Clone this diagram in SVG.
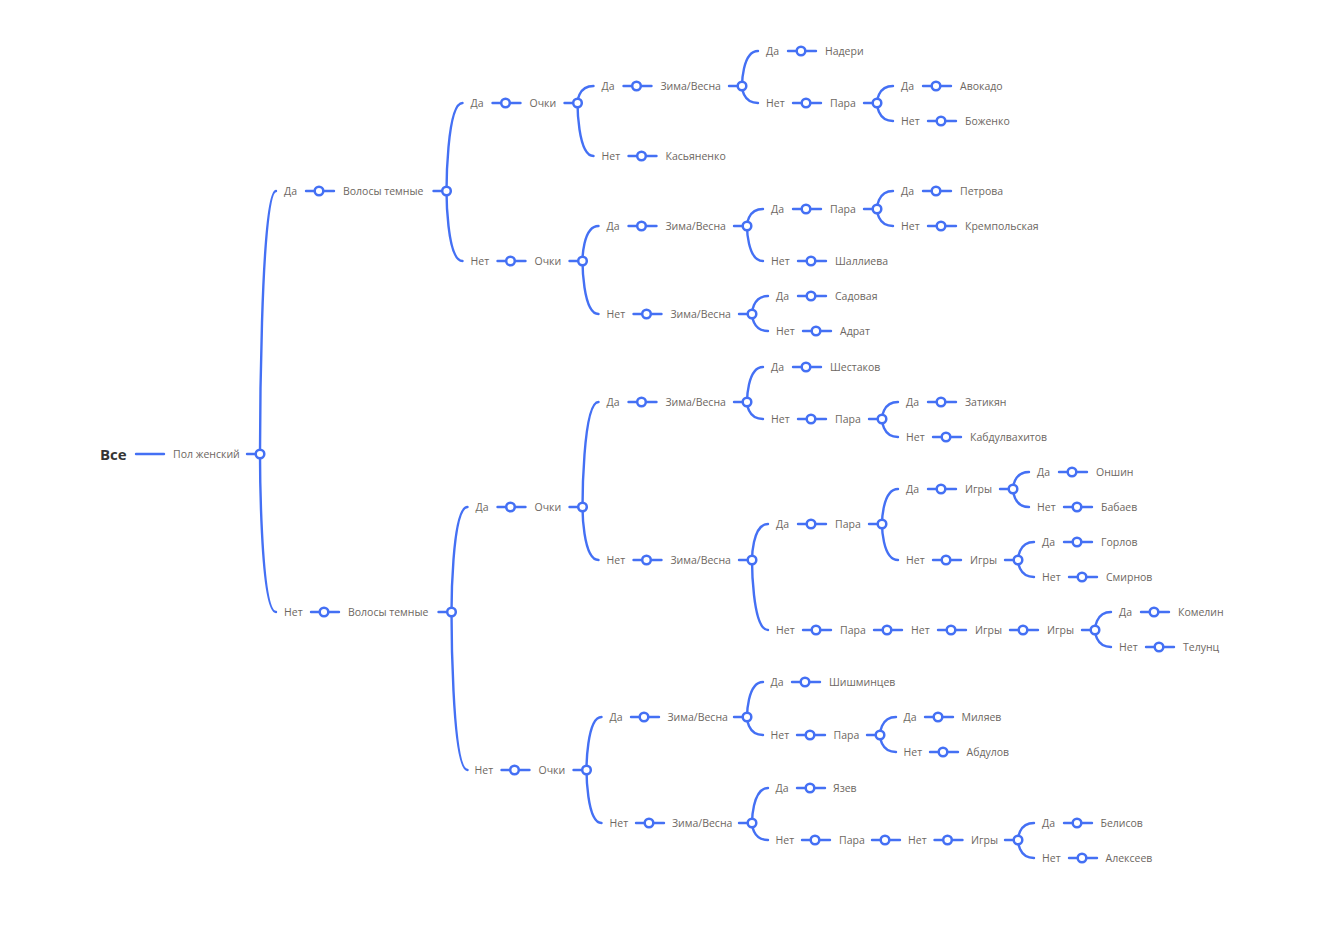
<svg xmlns="http://www.w3.org/2000/svg" width="1320" height="952" viewBox="0 0 1320 952">
  <style>
    .t { font-family: "Open Sans", "Liberation Sans", sans-serif; font-size: 10.5px; fill: #6d6762; }
    .root { font-family: "Open Sans", "Liberation Sans", sans-serif; font-size: 15px; font-weight: 700; fill: #353535; }
    .p { fill: #ffffff; stroke: #4470f4; stroke-width: 2.5; }
    #connectors path { fill: none; stroke: #4470f4; stroke-width: 2.4; stroke-linecap: round; }
  </style>
  <rect width="1320" height="952" fill="#ffffff"/>

  <!-- connectors: straight stubs between labels and ports, curved splits at forks -->
  <g id="connectors">
    <path d="M136 454H164"/>
    <path d="M247 454H260"/>
    <path d="M260 454C260 454 260 191 276 191"/>
    <path d="M260 454C260 454 260 612 276 612"/>

    <!-- upper half -->
    <path d="M306 191H334"/>
    <path d="M433.5 191H446.5"/>
    <path d="M446.5 191C446.5 191 446.5 103 462.5 103"/>
    <path d="M446.5 191C446.5 191 446.5 261 462.5 261"/>

    <path d="M492.5 103H520.5"/>
    <path d="M564.5 103H577.5"/>
    <path d="M577.5 103C577.5 103 577.5 86 593.5 86"/>
    <path d="M577.5 103C577.5 103 577.5 156 593.5 156"/>
    <path d="M623.5 86H651.5"/>
    <path d="M729 86H742"/>
    <path d="M742 86C742 86 742 51 758 51"/>
    <path d="M742 86C742 86 742 103 758 103"/>
    <path d="M788 51H816"/>
    <path d="M793 103H821"/>
    <path d="M864 103H877"/>
    <path d="M877 103C877 103 877 86 893 86"/>
    <path d="M877 103C877 103 877 121 893 121"/>
    <path d="M923 86H951"/>
    <path d="M928 121H956"/>
    <path d="M628.5 156H656.5"/>

    <path d="M497.5 261H525.5"/>
    <path d="M569.5 261H582.5"/>
    <path d="M582.5 261C582.5 261 582.5 226 598.5 226"/>
    <path d="M582.5 261C582.5 261 582.5 314 598.5 314"/>
    <path d="M628.5 226H656.5"/>
    <path d="M734 226H747"/>
    <path d="M747 226C747 226 747 209 763 209"/>
    <path d="M747 226C747 226 747 261 763 261"/>
    <path d="M793 209H821"/>
    <path d="M864 209H877"/>
    <path d="M877 209C877 209 877 191 893 191"/>
    <path d="M877 209C877 209 877 226 893 226"/>
    <path d="M923 191H951"/>
    <path d="M928 226H956"/>
    <path d="M798 261H826"/>
    <path d="M633.5 314H661.5"/>
    <path d="M739 314H752"/>
    <path d="M752 314C752 314 752 296 768 296"/>
    <path d="M752 314C752 314 752 331 768 331"/>
    <path d="M798 296H826"/>
    <path d="M803 331H831"/>

    <!-- lower half -->
    <path d="M311 612H339"/>
    <path d="M438.5 612H451.5"/>
    <path d="M451.5 612C451.5 612 451.5 507 467.5 507"/>
    <path d="M451.5 612C451.5 612 451.5 770 467.5 770"/>

    <path d="M497.5 507H525.5"/>
    <path d="M569.5 507H582.5"/>
    <path d="M582.5 507C582.5 507 582.5 402 598.5 402"/>
    <path d="M582.5 507C582.5 507 582.5 560 598.5 560"/>
    <path d="M628.5 402H656.5"/>
    <path d="M734 402H747"/>
    <path d="M747 402C747 402 747 367 763 367"/>
    <path d="M747 402C747 402 747 419 763 419"/>
    <path d="M793 367H821"/>
    <path d="M798 419H826"/>
    <path d="M869 419H882"/>
    <path d="M882 419C882 419 882 402 898 402"/>
    <path d="M882 419C882 419 882 437 898 437"/>
    <path d="M928 402H956"/>
    <path d="M933 437H961"/>

    <path d="M633.5 560H661.5"/>
    <path d="M739 560H752"/>
    <path d="M752 560C752 560 752 524 768 524"/>
    <path d="M752 560C752 560 752 630 768 630"/>
    <path d="M798 524H826"/>
    <path d="M869 524H882"/>
    <path d="M882 524C882 524 882 489 898 489"/>
    <path d="M882 524C882 524 882 560 898 560"/>
    <path d="M928 489H956"/>
    <path d="M1000 489H1013"/>
    <path d="M1013 489C1013 489 1013 472 1029 472"/>
    <path d="M1013 489C1013 489 1013 507 1029 507"/>
    <path d="M1059 472H1087"/>
    <path d="M1064 507H1092"/>
    <path d="M933 560H961"/>
    <path d="M1005 560H1018"/>
    <path d="M1018 560C1018 560 1018 542 1034 542"/>
    <path d="M1018 560C1018 560 1018 577 1034 577"/>
    <path d="M1064 542H1092"/>
    <path d="M1069 577H1097"/>
    <path d="M803 630H831"/>
    <path d="M874 630H902"/>
    <path d="M938 630H966"/>
    <path d="M1010 630H1038"/>
    <path d="M1082 630H1095"/>
    <path d="M1095 630C1095 630 1095 612 1111 612"/>
    <path d="M1095 630C1095 630 1095 647 1111 647"/>
    <path d="M1141 612H1169"/>
    <path d="M1146 647H1174"/>

    <path d="M501.5 770H529.5"/>
    <path d="M573.5 770H586.5"/>
    <path d="M586.5 770C586.5 770 586.5 717 601.5 717"/>
    <path d="M586.5 770C586.5 770 586.5 823 601.5 823"/>
    <path d="M631 717H659"/>
    <path d="M734 717H747"/>
    <path d="M747 717C747 717 747 682 763 682"/>
    <path d="M747 717C747 717 747 735 763 735"/>
    <path d="M792 682H820"/>
    <path d="M797 735H825"/>
    <path d="M867 735H880"/>
    <path d="M880 735C880 735 880 717 896 717"/>
    <path d="M880 735C880 735 880 752 896 752"/>
    <path d="M925 717H953"/>
    <path d="M930 752H958"/>
    <path d="M636 823H664"/>
    <path d="M739 823H752"/>
    <path d="M752 823C752 823 752 788 768 788"/>
    <path d="M752 823C752 823 752 840 768 840"/>
    <path d="M797 788H825"/>
    <path d="M802 840H830"/>
    <path d="M872 840H900"/>
    <path d="M934.5 840H962.5"/>
    <path d="M1005 840H1018"/>
    <path d="M1018 840C1018 840 1018 823 1034 823"/>
    <path d="M1018 840C1018 840 1018 858 1034 858"/>
    <path d="M1064 823H1092"/>
    <path d="M1069 858H1097"/>
  </g>

  <!-- nodes: label plus its port circle -->
  <g id="n-root"><text class="root" x="100" y="459.8">Все</text></g>
  <g id="n-sex"><text class="t" x="173" y="457.8">Пол женский</text><circle class="p" cx="260" cy="454" r="4.3"/></g>

  <g id="n-a"><text class="t" x="284" y="194.8">Да</text><circle class="p" cx="319" cy="191" r="4.3"/></g>
  <g id="n-a-hair"><text class="t" x="343" y="194.8">Волосы темные</text><circle class="p" cx="446.5" cy="191" r="4.3"/></g>

  <g id="n-a1"><text class="t" x="470.5" y="106.8">Да</text><circle class="p" cx="505.5" cy="103" r="4.3"/></g>
  <g id="n-a1-gl"><text class="t" x="529.5" y="106.8">Очки</text><circle class="p" cx="577.5" cy="103" r="4.3"/></g>
  <g id="n-a1a"><text class="t" x="601.5" y="89.8">Да</text><circle class="p" cx="636.5" cy="86" r="4.3"/></g>
  <g id="n-a1a-ws"><text class="t" x="660.5" y="89.8">Зима/Весна</text><circle class="p" cx="742" cy="86" r="4.3"/></g>
  <g id="n-a1a1"><text class="t" x="766" y="54.8">Да</text><circle class="p" cx="801" cy="51" r="4.3"/></g>
  <g id="n-a1a1-name"><text class="t" x="825" y="54.8">Надери</text></g>
  <g id="n-a1a2"><text class="t" x="766" y="106.8">Нет</text><circle class="p" cx="806" cy="103" r="4.3"/></g>
  <g id="n-a1a2-pair"><text class="t" x="830" y="106.8">Пара</text><circle class="p" cx="877" cy="103" r="4.3"/></g>
  <g id="n-a1a2a"><text class="t" x="901" y="89.8">Да</text><circle class="p" cx="936" cy="86" r="4.3"/></g>
  <g id="n-a1a2a-name"><text class="t" x="960" y="89.8">Авокадо</text></g>
  <g id="n-a1a2b"><text class="t" x="901" y="124.8">Нет</text><circle class="p" cx="941" cy="121" r="4.3"/></g>
  <g id="n-a1a2b-name"><text class="t" x="965" y="124.8">Боженко</text></g>
  <g id="n-a1b"><text class="t" x="601.5" y="159.8">Нет</text><circle class="p" cx="641.5" cy="156" r="4.3"/></g>
  <g id="n-a1b-name"><text class="t" x="665.5" y="159.8">Касьяненко</text></g>

  <g id="n-a2"><text class="t" x="470.5" y="264.8">Нет</text><circle class="p" cx="510.5" cy="261" r="4.3"/></g>
  <g id="n-a2-gl"><text class="t" x="534.5" y="264.8">Очки</text><circle class="p" cx="582.5" cy="261" r="4.3"/></g>
  <g id="n-a2a"><text class="t" x="606.5" y="229.8">Да</text><circle class="p" cx="641.5" cy="226" r="4.3"/></g>
  <g id="n-a2a-ws"><text class="t" x="665.5" y="229.8">Зима/Весна</text><circle class="p" cx="747" cy="226" r="4.3"/></g>
  <g id="n-a2a1"><text class="t" x="771" y="212.8">Да</text><circle class="p" cx="806" cy="209" r="4.3"/></g>
  <g id="n-a2a1-pair"><text class="t" x="830" y="212.8">Пара</text><circle class="p" cx="877" cy="209" r="4.3"/></g>
  <g id="n-a2a1a"><text class="t" x="901" y="194.8">Да</text><circle class="p" cx="936" cy="191" r="4.3"/></g>
  <g id="n-a2a1a-name"><text class="t" x="960" y="194.8">Петрова</text></g>
  <g id="n-a2a1b"><text class="t" x="901" y="229.8">Нет</text><circle class="p" cx="941" cy="226" r="4.3"/></g>
  <g id="n-a2a1b-name"><text class="t" x="965" y="229.8">Кремпольская</text></g>
  <g id="n-a2a2"><text class="t" x="771" y="264.8">Нет</text><circle class="p" cx="811" cy="261" r="4.3"/></g>
  <g id="n-a2a2-name"><text class="t" x="835" y="264.8">Шаллиева</text></g>
  <g id="n-a2b"><text class="t" x="606.5" y="317.8">Нет</text><circle class="p" cx="646.5" cy="314" r="4.3"/></g>
  <g id="n-a2b-ws"><text class="t" x="670.5" y="317.8">Зима/Весна</text><circle class="p" cx="752" cy="314" r="4.3"/></g>
  <g id="n-a2b1"><text class="t" x="776" y="299.8">Да</text><circle class="p" cx="811" cy="296" r="4.3"/></g>
  <g id="n-a2b1-name"><text class="t" x="835" y="299.8">Садовая</text></g>
  <g id="n-a2b2"><text class="t" x="776" y="334.8">Нет</text><circle class="p" cx="816" cy="331" r="4.3"/></g>
  <g id="n-a2b2-name"><text class="t" x="840" y="334.8">Адрат</text></g>

  <g id="n-b"><text class="t" x="284" y="615.8">Нет</text><circle class="p" cx="324" cy="612" r="4.3"/></g>
  <g id="n-b-hair"><text class="t" x="348" y="615.8">Волосы темные</text><circle class="p" cx="451.5" cy="612" r="4.3"/></g>

  <g id="n-b1"><text class="t" x="475.5" y="510.8">Да</text><circle class="p" cx="510.5" cy="507" r="4.3"/></g>
  <g id="n-b1-gl"><text class="t" x="534.5" y="510.8">Очки</text><circle class="p" cx="582.5" cy="507" r="4.3"/></g>
  <g id="n-b1a"><text class="t" x="606.5" y="405.8">Да</text><circle class="p" cx="641.5" cy="402" r="4.3"/></g>
  <g id="n-b1a-ws"><text class="t" x="665.5" y="405.8">Зима/Весна</text><circle class="p" cx="747" cy="402" r="4.3"/></g>
  <g id="n-b1a1"><text class="t" x="771" y="370.8">Да</text><circle class="p" cx="806" cy="367" r="4.3"/></g>
  <g id="n-b1a1-name"><text class="t" x="830" y="370.8">Шестаков</text></g>
  <g id="n-b1a2"><text class="t" x="771" y="422.8">Нет</text><circle class="p" cx="811" cy="419" r="4.3"/></g>
  <g id="n-b1a2-pair"><text class="t" x="835" y="422.8">Пара</text><circle class="p" cx="882" cy="419" r="4.3"/></g>
  <g id="n-b1a2a"><text class="t" x="906" y="405.8">Да</text><circle class="p" cx="941" cy="402" r="4.3"/></g>
  <g id="n-b1a2a-name"><text class="t" x="965" y="405.8">Затикян</text></g>
  <g id="n-b1a2b"><text class="t" x="906" y="440.8">Нет</text><circle class="p" cx="946" cy="437" r="4.3"/></g>
  <g id="n-b1a2b-name"><text class="t" x="970" y="440.8">Кабдулвахитов</text></g>

  <g id="n-b1b"><text class="t" x="606.5" y="563.8">Нет</text><circle class="p" cx="646.5" cy="560" r="4.3"/></g>
  <g id="n-b1b-ws"><text class="t" x="670.5" y="563.8">Зима/Весна</text><circle class="p" cx="752" cy="560" r="4.3"/></g>
  <g id="n-b1b1"><text class="t" x="776" y="527.8">Да</text><circle class="p" cx="811" cy="524" r="4.3"/></g>
  <g id="n-b1b1-pair"><text class="t" x="835" y="527.8">Пара</text><circle class="p" cx="882" cy="524" r="4.3"/></g>
  <g id="n-b1b1a"><text class="t" x="906" y="492.8">Да</text><circle class="p" cx="941" cy="489" r="4.3"/></g>
  <g id="n-b1b1a-games"><text class="t" x="965" y="492.8">Игры</text><circle class="p" cx="1013" cy="489" r="4.3"/></g>
  <g id="n-b1b1a1"><text class="t" x="1037" y="475.8">Да</text><circle class="p" cx="1072" cy="472" r="4.3"/></g>
  <g id="n-b1b1a1-name"><text class="t" x="1096" y="475.8">Оншин</text></g>
  <g id="n-b1b1a2"><text class="t" x="1037" y="510.8">Нет</text><circle class="p" cx="1077" cy="507" r="4.3"/></g>
  <g id="n-b1b1a2-name"><text class="t" x="1101" y="510.8">Бабаев</text></g>
  <g id="n-b1b1b"><text class="t" x="906" y="563.8">Нет</text><circle class="p" cx="946" cy="560" r="4.3"/></g>
  <g id="n-b1b1b-games"><text class="t" x="970" y="563.8">Игры</text><circle class="p" cx="1018" cy="560" r="4.3"/></g>
  <g id="n-b1b1b1"><text class="t" x="1042" y="545.8">Да</text><circle class="p" cx="1077" cy="542" r="4.3"/></g>
  <g id="n-b1b1b1-name"><text class="t" x="1101" y="545.8">Горлов</text></g>
  <g id="n-b1b1b2"><text class="t" x="1042" y="580.8">Нет</text><circle class="p" cx="1082" cy="577" r="4.3"/></g>
  <g id="n-b1b1b2-name"><text class="t" x="1106" y="580.8">Смирнов</text></g>
  <g id="n-b1b2"><text class="t" x="776" y="633.8">Нет</text><circle class="p" cx="816" cy="630" r="4.3"/></g>
  <g id="n-b1b2-pair"><text class="t" x="840" y="633.8">Пара</text><circle class="p" cx="887" cy="630" r="4.3"/></g>
  <g id="n-b1b2-no"><text class="t" x="911" y="633.8">Нет</text><circle class="p" cx="951" cy="630" r="4.3"/></g>
  <g id="n-b1b2-games"><text class="t" x="975" y="633.8">Игры</text><circle class="p" cx="1023" cy="630" r="4.3"/></g>
  <g id="n-b1b2-games2"><text class="t" x="1047" y="633.8">Игры</text><circle class="p" cx="1095" cy="630" r="4.3"/></g>
  <g id="n-b1b2a"><text class="t" x="1119" y="615.8">Да</text><circle class="p" cx="1154" cy="612" r="4.3"/></g>
  <g id="n-b1b2a-name"><text class="t" x="1178" y="615.8">Комелин</text></g>
  <g id="n-b1b2b"><text class="t" x="1119" y="650.8">Нет</text><circle class="p" cx="1159" cy="647" r="4.3"/></g>
  <g id="n-b1b2b-name"><text class="t" x="1183" y="650.8">Телунц</text></g>

  <g id="n-b2"><text class="t" x="474.5" y="773.8">Нет</text><circle class="p" cx="514.5" cy="770" r="4.3"/></g>
  <g id="n-b2-gl"><text class="t" x="538.5" y="773.8">Очки</text><circle class="p" cx="586.5" cy="770" r="4.3"/></g>
  <g id="n-b2a"><text class="t" x="609.5" y="720.8">Да</text><circle class="p" cx="644" cy="717" r="4.3"/></g>
  <g id="n-b2a-ws"><text class="t" x="667.5" y="720.8">Зима/Весна</text><circle class="p" cx="747" cy="717" r="4.3"/></g>
  <g id="n-b2a1"><text class="t" x="770.5" y="685.8">Да</text><circle class="p" cx="805" cy="682" r="4.3"/></g>
  <g id="n-b2a1-name"><text class="t" x="829" y="685.8">Шишминцев</text></g>
  <g id="n-b2a2"><text class="t" x="770.5" y="738.8">Нет</text><circle class="p" cx="810" cy="735" r="4.3"/></g>
  <g id="n-b2a2-pair"><text class="t" x="833.5" y="738.8">Пара</text><circle class="p" cx="880" cy="735" r="4.3"/></g>
  <g id="n-b2a2a"><text class="t" x="903.5" y="720.8">Да</text><circle class="p" cx="938" cy="717" r="4.3"/></g>
  <g id="n-b2a2a-name"><text class="t" x="961.5" y="720.8">Миляев</text></g>
  <g id="n-b2a2b"><text class="t" x="903.5" y="755.8">Нет</text><circle class="p" cx="943" cy="752" r="4.3"/></g>
  <g id="n-b2a2b-name"><text class="t" x="966.5" y="755.8">Абдулов</text></g>
  <g id="n-b2b"><text class="t" x="609.5" y="826.8">Нет</text><circle class="p" cx="649" cy="823" r="4.3"/></g>
  <g id="n-b2b-ws"><text class="t" x="672" y="826.8">Зима/Весна</text><circle class="p" cx="752" cy="823" r="4.3"/></g>
  <g id="n-b2b1"><text class="t" x="775.5" y="791.8">Да</text><circle class="p" cx="810" cy="788" r="4.3"/></g>
  <g id="n-b2b1-name"><text class="t" x="833" y="791.8">Язев</text></g>
  <g id="n-b2b2"><text class="t" x="775.5" y="843.8">Нет</text><circle class="p" cx="815" cy="840" r="4.3"/></g>
  <g id="n-b2b2-pair"><text class="t" x="839" y="843.8">Пара</text><circle class="p" cx="885" cy="840" r="4.3"/></g>
  <g id="n-b2b2-no"><text class="t" x="908" y="843.8">Нет</text><circle class="p" cx="947.5" cy="840" r="4.3"/></g>
  <g id="n-b2b2-games"><text class="t" x="971" y="843.8">Игры</text><circle class="p" cx="1018" cy="840" r="4.3"/></g>
  <g id="n-b2b2a"><text class="t" x="1042" y="826.8">Да</text><circle class="p" cx="1077" cy="823" r="4.3"/></g>
  <g id="n-b2b2a-name"><text class="t" x="1100.5" y="826.8">Белисов</text></g>
  <g id="n-b2b2b"><text class="t" x="1042" y="861.8">Нет</text><circle class="p" cx="1082" cy="858" r="4.3"/></g>
  <g id="n-b2b2b-name"><text class="t" x="1105.5" y="861.8">Алексеев</text></g>
</svg>
